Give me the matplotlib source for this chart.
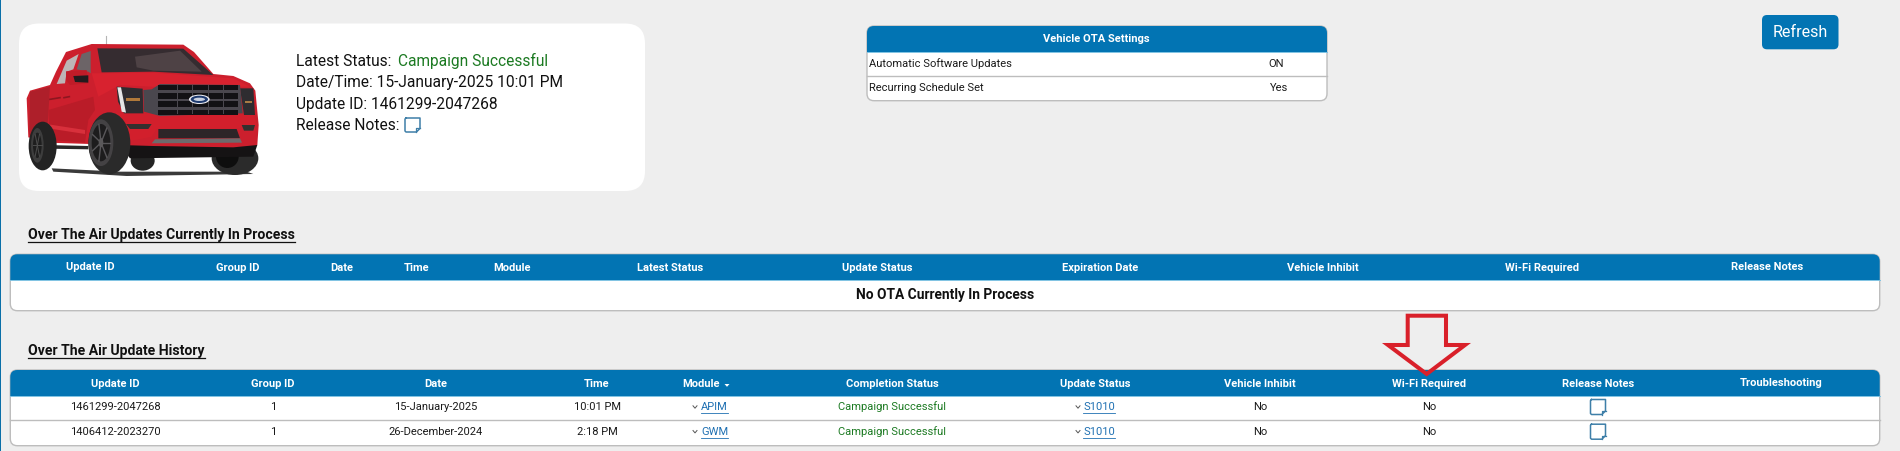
import math
import matplotlib
matplotlib.use("Agg")
import matplotlib.pyplot as plt
from matplotlib.patches import FancyBboxPatch, Rectangle, Polygon, Ellipse

FONT = ["Roboto", "DejaVu Sans"]
plt.rcParams["font.family"] = FONT

BG = "#EEEEEE"
BLUE = "#0274B3"
GREEN = "#1C7A22"
LINK = "#1F70B2"
EDGE = "#BDBDBD"
INK = "#1A1A1A"

# ---- content ----
status_labels = ["Latest Status:", "Date/Time: 15-January-2025 10:01 PM",
                 "Update ID: 1461299-2047268", "Release Notes:"]
status_value = "Campaign Successful"
settings_title = "Vehicle OTA Settings"
settings_names = ["Automatic Software Updates", "Recurring Schedule Set"]
settings_values = ["ON", "Yes"]
button_text = "Refresh"
section_titles = ["Over The Air Updates Currently In Process", "Over The Air Update History"]
process_headers = ["Update ID", "Group ID", "Date", "Time", "Module", "Latest Status", "Update Status",
                   "Expiration Date", "Vehicle Inhibit", "Wi-Fi Required", "Release Notes"]
process_empty = "No OTA Currently In Process"
history_headers = ["Update ID", "Group ID", "Date", "Time", "Module", "Completion Status", "Update Status",
                   "Vehicle Inhibit", "Wi-Fi Required", "Release Notes", "Troubleshooting"]
update_ids = ["1461299-2047268", "1406412-2023270"]
group_ids = ["1", "1"]
dates = ["15-January-2025", "26-December-2024"]
times = ["10:01 PM", "2:18 PM"]
modules = ["APIM", "GWM"]
completion = ["Campaign Successful", "Campaign Successful"]
update_status = ["S1010", "S1010"]
inhibit = ["No", "No"]
wifi = ["No", "No"]

# ---- layout ----
process_x = [90, 238, 342, 417, 512, 670, 877, 1100, 1323, 1542, 1767]
history_x = [115, 273, 436, 597, 701, 892, 1095, 1260, 1429, 1598, 1781]
row_y = [407, 431.7]

fig = plt.figure(figsize=(19, 4.51), dpi=100, facecolor=BG)
ax = fig.add_axes([0, 0, 1, 1])
ax.set_xlim(0, 1900)
ax.set_ylim(451, 0)
ax.axis("off")


def txt(x, y, s, size=8, color=INK, weight="normal", ha="center", **kw):
    return ax.text(x, y, s, fontsize=size, color=color, fontweight=weight, ha=ha, va="center", **kw)


def rounded(x0, y0, x1, y1, r, fc, ec="none", lw=0, z=1):
    p = FancyBboxPatch((x0 + r, y0 + r), x1 - x0 - 2 * r, y1 - y0 - 2 * r,
                       boxstyle=f"round,pad={r},rounding_size={r}", fc=fc, ec=ec, lw=lw, zorder=z)
    ax.add_patch(p)
    return p


def table(x0, y0, x1, y1, head_bottom, r=7, dividers=()):
    box = rounded(x0, y0, x1, y1, r, "white", EDGE, 1.0, 1)
    head = Rectangle((x0 - 1, y0 - 1), x1 - x0 + 2, head_bottom - y0 + 1, fc=BLUE, ec="none", zorder=2)
    ax.add_patch(head)
    head.set_clip_path(box)
    ax.plot([x0, x1], [head_bottom, head_bottom], color="#7FC3E3", lw=0.7, zorder=3)
    for d in dividers:
        ax.plot([x0, x1], [d, d], color=EDGE, lw=1.0, zorder=3)


def note(cx, cy, w, h):
    x0, y0, x1, y1 = cx - w / 2, cy - h / 2, cx + w / 2, cy + h / 2
    f = w * 0.24
    ax.plot([x0 + 1, x1, x1, x1 - f, x0 + 1, x0, x0, x0 + 1],
            [y0, y0, y1 - f, y1, y1, y1 - 1, y0 + 1, y0], color="#3E7FA8", lw=1.1, zorder=4,
            solid_joinstyle="round")
    ax.plot([x1 - f, x1 - f, x1], [y1, y1 - f, y1 - f], color="#3E7FA8", lw=0.9, zorder=4)


def caret(x, y):
    ax.plot([x - 2, x, x + 2], [y - 1.2, y + 1.2, y - 1.2], color="#555555", lw=0.7, zorder=4)


def link(cx, y, s):
    t = txt(cx, y, s, color=LINK, zorder=4)
    fig.canvas.draw()
    bb = t.get_window_extent().transformed(ax.transData.inverted())
    ax.plot([bb.x0, bb.x1], [y + 6, y + 6], color=LINK, lw=0.6, zorder=4)


# page edge
ax.add_patch(Rectangle((0, 0), 1.2, 451, fc="#0A6FA8", ec="none", zorder=5))

# vehicle card
rounded(19, 23.5, 645, 191, 20, "white", "none", 0, 1)


def tx(p):
    return [(20 + a / 3, 30 + b / 3) for a, b in p]


def poly(p, color, z):
    ax.add_patch(Polygon(tx(p), closed=True, fc=color, ec="none", zorder=z))


def ell(cx, cy, rx, ry, color, z, angle=0):
    ax.add_patch(Ellipse((20 + cx / 3, 30 + cy / 3), 2 * rx / 3, 2 * ry / 3, angle=angle, fc=color, ec="none", zorder=z))


def spokes(cx, cy, rx, ry, n, color, lw, z):
    for k in range(n):
        a = 2 * math.pi * k / n
        ax.plot([20 + cx / 3, 20 + (cx + rx * math.cos(a)) / 3], [30 + cy / 3, 30 + (cy + ry * math.sin(a)) / 3],
                color=color, lw=lw, zorder=z)


# ground shadow
poly([(95, 415), (300, 425), (680, 425), (700, 432), (320, 438), (100, 425)], "#3A3A3A", 2)
# antenna
ax.plot([20 + 257 / 3, 20 + 257 / 3], [30 + 18 / 3, 30 + 46 / 3], color="#B5B5B5", lw=0.8, zorder=2)
# far wheels
ell(368, 392, 36, 30, "#242424", 3)
ell(645, 385, 70, 50, "#2B2B2B", 3)
ell(622, 380, 34, 34, "#0E0E0E", 3.1)
# body
poly([(20, 205), (30, 182), (90, 165), (108, 125), (138, 66), (215, 42), (490, 44), (522, 66), (580, 132), (640, 138),
      (690, 160), (706, 182), (716, 285), (712, 345), (640, 352), (400, 348), (300, 345), (210, 342), (85, 338),
      (25, 322)], "#CC1F2D", 4)
poly([(30, 185), (90, 170), (80, 330), (28, 315)], "#AE1F2A", 4.1)
poly([(85, 240), (220, 200), (225, 240), (205, 270), (195, 338), (90, 330)], "#BA1C28", 4.1)
poly([(85, 283), (195, 300), (195, 312), (85, 295)], "#D8303C", 4.2)
poly([(215, 130), (400, 128), (640, 145), (690, 170), (395, 170), (300, 165), (235, 200)], "#D8222F", 4.2)
poly([(280, 250), (700, 255), (712, 285), (640, 296), (410, 296), (395, 320), (320, 335), (285, 320)], "#D21F2C", 4.3)
ax.plot([20 + 90 / 3, 20 + 120 / 3], [30 + 208 / 3, 30 + 203 / 3], color="#8E1620", lw=1.2, zorder=4.4)
ax.plot([20 + 132 / 3, 20 + 148 / 3], [30 + 203 / 3, 30 + 200 / 3], color="#8E1620", lw=1.2, zorder=4.4)
# windows
poly([(232, 55), (490, 56), (580, 135), (400, 125), (245, 127)], "#352C30", 5)
poly([(345, 80), (480, 62), (545, 125), (400, 122), (350, 112)], "#4E4245", 5.1)
poly([(110, 162), (140, 92), (176, 72), (160, 118), (140, 125), (135, 160)], "#BDB5B6", 5)
poly([(170, 118), (185, 72), (212, 63), (212, 130), (205, 125)], "#6C6467", 5)
# mirror
poly([(138, 124), (200, 120), (205, 160), (150, 165), (138, 150)], "#C01C28", 6)
poly([(160, 138), (205, 136), (205, 158), (165, 156)], "#221B1E", 6.1)
# headlights
poly([(290, 170), (368, 176), (370, 250), (312, 250), (294, 215)], "#2E2C30", 6)
poly([(292, 172), (303, 172), (318, 248), (305, 245)], "#E6E6E6", 6.1)
poly([(318, 205), (360, 205), (360, 213), (318, 213)], "#B0793A", 6.2)
poly([(660, 175), (700, 175), (705, 255), (672, 255)], "#2E2C30", 6)
poly([(675, 212), (697, 212), (697, 220), (675, 220)], "#A87A44", 6.2)
# grille
poly([(395, 178), (420, 162), (660, 165), (668, 250), (420, 258), (372, 245), (370, 180)], "#4A474E", 6)
for a, b in [(165, 180), (190, 208), (214, 232), (240, 254)]:
    poly([(415, a), (655, a), (655, b), (415, b)], "#121114", 6.1)
for c in [470, 515, 565, 610]:
    poly([(c, 165), (c + 3, 165), (c + 3, 252), (c, 252)], "#4A474E", 6.2)
ell(538, 208, 31, 14, "#EDEDF2", 7)
ell(538, 208, 26, 11, "#1E3A6E", 7.1)
ell(538, 208, 17, 5, "#C8D0E0", 7.2)
# lower bumper
poly([(318, 282), (395, 282), (385, 297), (330, 297)], "#33302F", 7)
poly([(665, 285), (705, 285), (700, 302), (672, 302)], "#33302F", 7)
poly([(415, 297), (650, 297), (660, 325), (415, 325)], "#2D2528", 7)
poly([(405, 328), (660, 325), (666, 338), (395, 340)], "#6E6A6C", 7)
poly([(300, 345), (712, 345), (700, 380), (330, 385)], "#151314", 3.5)
# step bar
poly([(78, 345), (205, 348), (205, 358), (78, 356)], "#2A2A2A", 7)
# wheels
ell(68, 348, 42, 73, "#232323", 8)
ell(52, 346, 19, 52, "#3D3D3D", 8.1)
ell(52, 346, 13, 38, "#1E1E1E", 8.2)
spokes(52, 346, 13, 38, 6, "#4D4D4D", 0.7, 8.3)
ell(268, 340, 63, 93, "#2A2A2A", 8)
ell(243, 338, 37, 70, "#444244", 8.1)
ell(243, 338, 28, 56, "#1D1C1D", 8.2)
spokes(243, 338, 28, 56, 7, "#59575A", 1.0, 8.3)
ell(243, 338, 7, 14, "#5A585A", 8.4)

# vehicle status
x_s = 296
line_y = [61, 83, 105, 126]
size_s = 11.2
txt(x_s, line_y[0], status_labels[0], size=size_s, ha="left", color="#111111")
txt(398, line_y[0], status_value, size=size_s, ha="left", color=GREEN)
for y, s in zip(line_y[1:], status_labels[1:]):
    txt(x_s, y, s, size=size_s, ha="left", color="#111111")
note(412.5, 125, 15, 14)

# settings
table(867, 26, 1327, 100.7, 51.5, r=7, dividers=[76.3])
txt(1096.5, 39, settings_title, size=8, color="white", weight="bold", zorder=4)
for y, n, v, vx in zip([63.7, 88], settings_names, settings_values, [1276, 1279]):
    txt(869, y, n, size=8, ha="left", zorder=4)
    txt(vx, y, v, size=8, zorder=4)

# refresh button
rounded(1762, 15, 1838.5, 49.3, 5, BLUE, "none", 0, 2)
txt(1800, 32.7, button_text, size=11.6, color="white", zorder=3)

# section titles
fig.canvas.draw()
for y, s in zip([235, 351], section_titles):
    t = txt(28, y, s, size=10.1, weight="bold", ha="left", color="#111111")
    bb = t.get_window_extent().transformed(ax.transData.inverted())
    ax.plot([28, bb.x1], [y + 6.5, y + 6.5], color="#111111", lw=0.9)

# in-process table
table(10.3, 254.3, 1879.7, 310.7, 280)
for x, h in zip(process_x, process_headers):
    y = 267.3 if h in ("Update ID", "Release Notes") else 268
    txt(x, y, h, color="white", weight="bold", zorder=4)
txt(945, 295, process_empty, size=9.95, weight="bold", color="#111111", zorder=4)

# history table
table(10.3, 370, 1879.7, 445.7, 395.7, dividers=[420.3])
for x, h in zip(history_x, history_headers):
    y = 383 if h == "Troubleshooting" else 383.7
    txt(x, y, h, color="white", weight="bold", zorder=4)
ax.add_patch(Polygon([(724.5, 384), (729.5, 384), (727, 386.8)], closed=True, fc="white", ec="none", zorder=4))

for i, y in enumerate(row_y):
    txt(history_x[0], y, update_ids[i], zorder=4)
    txt(history_x[1], y, group_ids[i], zorder=4)
    txt(history_x[2], y, dates[i], zorder=4)
    txt(history_x[3], y, times[i], zorder=4)
    caret(695, y)
    link(714.5, y, modules[i])
    txt(history_x[5], y, completion[i], color=GREEN, zorder=4)
    caret(1078, y)
    link(1099, y, update_status[i])
    txt(history_x[7], y, inhibit[i], zorder=4)
    txt(history_x[8], y, wifi[i], zorder=4)
    note(history_x[9], y, 15, 15)

# annotation arrow
arrow = [(1407.7, 315.7), (1446, 315.7), (1446, 345), (1465, 345), (1426.7, 374), (1388, 345), (1407.7, 345)]
ax.add_patch(Polygon(arrow, closed=True, fc="none", ec="#D9202A", lw=2.9, joinstyle="miter", zorder=6))

fig.savefig("out.png", dpi=100, facecolor=BG)
